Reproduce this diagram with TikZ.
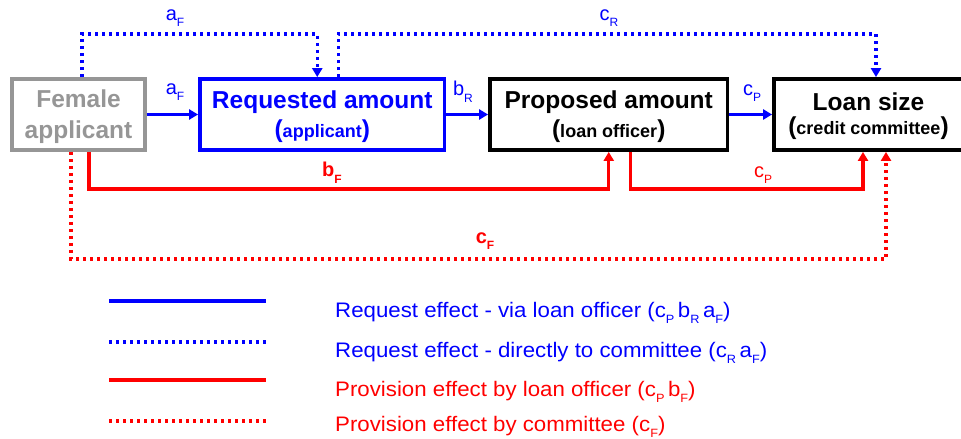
\documentclass[tikz,border=0pt]{standalone}
\usepackage{fontspec}
\setmainfont{Liberation Sans}
\newfontfamily\legendfont[FakeStretch=1.06]{Liberation Sans}
\usetikzlibrary{arrows.meta,calc}

\definecolor{fgray}{RGB}{150,150,150}
\definecolor{bblue}{RGB}{0,0,255}
\definecolor{rred}{RGB}{255,0,0}

% lowered small subscript letter
\newcommand{\lowsub}[1]{\raisebox{-0.33em}{\fontsize{12}{12}\selectfont #1}}
% bold bracketed role line under a stage title
\newcommand{\roleline}[1]{{\bfseries\fontsize{24.5}{24.5}\selectfont(}{\bfseries\fontsize{18}{18}\selectfont #1}{\bfseries\fontsize{24.5}{24.5}\selectfont)}}
% stage title with a tall strut so the text sits a little lower in the box
\newcommand{\stagetitle}[1]{\rule{0pt}{22pt}{\bfseries\fontsize{24.5}{28}\selectfont #1}}

\tikzset{
  stage/.style={draw, line width=3.8pt, minimum height=71pt, inner sep=0pt, align=center},
  headtxt/.style={font=\bfseries\fontsize{24.5}{28}\selectfont},
  tip/.style={-{Triangle[length=9pt,width=10pt]}},
  link/.style={line width=3.3pt},
  dotlink/.style={line width=3.3pt, dash pattern=on 3pt off 4pt},
  efflabel/.style={font=\fontsize{20}{20}\selectfont, inner sep=0pt},
  legtxt/.style={font=\legendfont\fontsize{21}{21}\selectfont, anchor=base west, inner sep=0pt},
}

\begin{document}
\begin{tikzpicture}[x=1pt,y=-1pt]
\useasboundingbox (0,0) rectangle (961,439);

% the four stages
\node[stage, fgray, minimum width=133pt, text=fgray, headtxt] (fem) at (78.5,114.5)
  {\rule{0pt}{22pt}Female\\[3pt]applicant};
\node[stage, bblue, minimum width=244.5pt, text=bblue] (req) at (322.25,114.5)
  {\stagetitle{Requested amount}\\[5pt]\roleline{applicant}};
\node[stage, black, minimum width=237.5pt] (prop) at (608.75,114.5)
  {\stagetitle{Proposed amount}\\[5pt]\roleline{loan officer}};
\node[stage, black, minimum width=189pt] (loan) at (868.5,114.5)
  {\stagetitle{Loan size}\\[5pt]\roleline{credit committee}};

% request chain through the loan officer
\draw[bblue, link, tip] (fem.east) -- (req.west);
\draw[bblue, link, tip] (req.east) -- (prop.west);
\draw[bblue, link, tip] (prop.east) -- (loan.west);

% request path straight to the committee
\draw[bblue, dotlink, tip] ([xshift=3.5pt]fem.north) -- ++(0,-43) -| ([xshift=-5pt]req.north);
\draw[bblue, dotlink, tip] ([xshift=16pt]req.north) -- ++(0,-43) -| ([xshift=7.5pt]loan.north);

% provision effects
\draw[rred, link, tip] ([xshift=10.5pt]fem.south) -- ++(0,37) -| (prop.south);
\draw[rred, link, tip] ([xshift=22pt]prop.south) -- ++(0,37) -| ([xshift=-5.5pt]loan.south);
\draw[rred, dotlink, tip] ([xshift=-7.5pt]fem.south) -- ++(0,107) -| ([xshift=17.5pt]loan.south);

% path coefficients
\node[efflabel, text=bblue] (laF1) at (175,18) {a\lowsub{F}};
\node[efflabel, text=bblue] (lcR) at (609,18) {c\lowsub{R}};
\node[efflabel, text=bblue] (laF2) at (175,92) {a\lowsub{F}};
\node[efflabel, text=bblue] (lbR) at (463,92) {b\lowsub{R}};
\node[efflabel, text=bblue] (lcP1) at (752,93) {c\lowsub{P}};
\node[efflabel, text=rred, font=\bfseries\fontsize{20}{20}\selectfont] (lbF) at (332,173) {b\lowsub{F}};
\node[efflabel, text=rred] (lcP2) at (763,175) {c\lowsub{P}};
\node[efflabel, text=rred, font=\bfseries\fontsize{20}{20}\selectfont] (lcF) at (485,241) {c\lowsub{F}};

% legend
\coordinate (k1a) at (109,301); \coordinate (k1b) at (266,301);
\coordinate (k2a) at (109,342); \coordinate (k2b) at (266,342);
\coordinate (k3a) at (109,380); \coordinate (k3b) at (266,380);
\coordinate (k4a) at (109,421); \coordinate (k4b) at (266,421);
\draw[bblue, link] (k1a) -- (k1b);
\draw[bblue, dotlink] (k2a) -- (k2b);
\draw[rred, link] (k3a) -- (k3b);
\draw[rred, dotlink] (k4a) -- (k4b);
\node[legtxt, text=bblue] (t1) at (335,317) {Request effect - via loan officer (c\lowsub{P}\,b\lowsub{R}\,a\lowsub{F})};
\node[legtxt, text=bblue] (t2) at (335,357) {Request effect - directly to committee (c\lowsub{R}\,a\lowsub{F})};
\node[legtxt, text=rred] (t3) at (335,396) {Provision effect by loan officer (c\lowsub{P}\,b\lowsub{F})};
\node[legtxt, text=rred] (t4) at (335,431) {Provision effect by committee (c\lowsub{F})};
\end{tikzpicture}
\end{document}
